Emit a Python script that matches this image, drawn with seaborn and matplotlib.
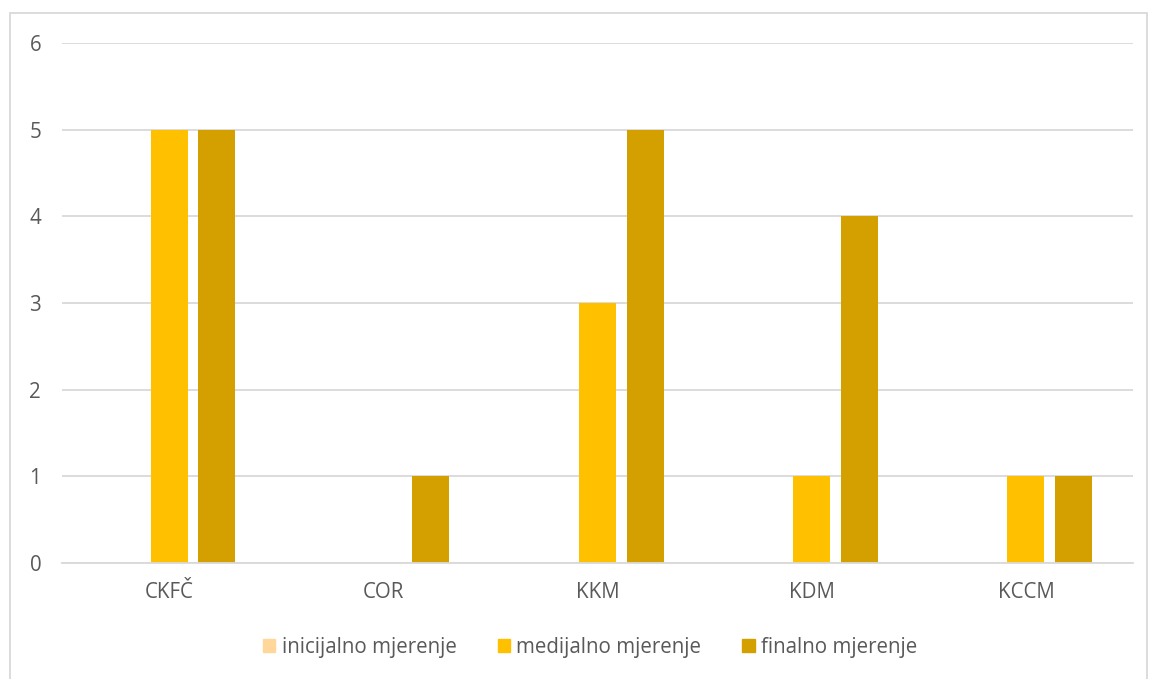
import matplotlib
matplotlib.use("Agg")
import matplotlib.pyplot as plt
import seaborn as sns
import pandas as pd
from matplotlib.patches import Rectangle

categories = ["CKFČ", "COR", "KKM", "KDM", "KCCM"]
series_names = ["inicijalno mjerenje", "medijalno mjerenje", "finalno mjerenje"]
inicijalno = [0, 0, 0, 0, 0]
medijalno = [5, 0, 3, 1, 1]
finalno = [5, 1, 5, 4, 1]
colors = ["#FFD79B", "#FFC000", "#D4A000"]

rows = []
for name, vals in zip(series_names, [inicijalno, medijalno, finalno]):
    for c, v in zip(categories, vals):
        rows.append({"cat": c, "series": name, "val": v})
df = pd.DataFrame(rows)

sns.set_theme(style="white")
plt.rcParams["font.family"] = ["Open Sans", "DejaVu Sans"]

fig = plt.figure(figsize=(11.49, 6.79), dpi=100)
ax = fig.add_axes([62/1149, 1-563/679, (1133-62)/1149, (563-43)/679])

sns.barplot(data=df, x="cat", y="val", hue="series", order=categories,
            hue_order=series_names, palette=colors, width=0.666, gap=0.22,
            saturation=1, ax=ax, legend=False, errorbar=None, linewidth=0)

ax.set_ylim(0, 6)
ax.set_xlim(-0.5, 4.5)
ax.set_yticks(range(0, 7))
ax.yaxis.grid(True, color="#D9D9D9", linewidth=1.3)
ax.set_axisbelow(True)
for s in ["top", "right", "left"]:
    ax.spines[s].set_visible(False)
ax.spines["bottom"].set_color("#D9D9D9")
ax.spines["bottom"].set_linewidth(1.3)
ax.tick_params(axis="both", length=0, labelsize=14.8, labelcolor="#595959")
ax.tick_params(axis="y", pad=15)
ax.tick_params(axis="x", pad=14)
ax.set_xlabel("")
ax.set_ylabel("")

handles = [Rectangle((0, 0), 1, 1, color=c) for c in colors]
fig.legend(handles, series_names, loc="center", bbox_to_anchor=(590/1149, 1-647/679),
           ncol=3, frameon=False, fontsize=14.8, labelcolor="#595959",
           handlelength=0.6, handleheight=0.6, handletextpad=0.3, columnspacing=2.0)

# outer frame
fig.add_artist(Rectangle((10/1149, -0.01), (1147-10)/1149, 1-13/679 + 0.01,
                         transform=fig.transFigure, fill=False,
                         edgecolor="#D9D9D9", linewidth=1.3))

fig.savefig("out.png", dpi=100)
